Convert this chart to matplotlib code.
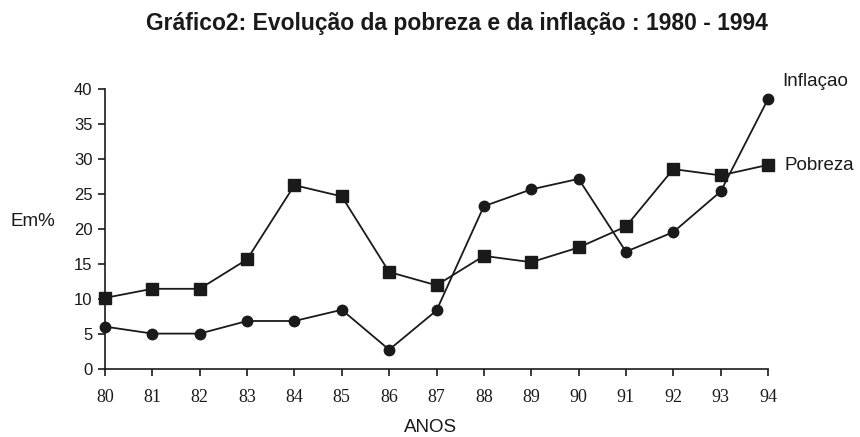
import matplotlib
matplotlib.use("Agg")
import matplotlib.pyplot as plt

anos = [80, 81, 82, 83, 84, 85, 86, 87, 88, 89, 90, 91, 92, 93, 94]
pobreza = [10.2, 11.5, 11.5, 15.7, 26.3, 24.7, 13.9, 12.0, 16.2, 15.3, 17.4, 20.4, 28.6, 27.7, 29.2]
inflacao = [6.1, 5.1, 5.1, 6.9, 6.9, 8.5, 2.8, 8.4, 23.3, 25.7, 27.2, 16.8, 19.6, 25.4, 38.6]
yticks = [0, 5, 10, 15, 20, 25, 30, 35, 40]

fig = plt.figure(figsize=(8.6, 4.37), dpi=100)
ax = fig.add_axes([105/860, 1-369.3/437, (768-105)/860, (369.3-89.3)/437])

col = "#1a1a1a"
ax.plot(anos, pobreza, color=col, lw=1.3, marker="s", markersize=9, clip_on=False, zorder=3)
ax.plot(anos, inflacao, color=col, lw=1.3, marker="o", markersize=7.5, clip_on=False, zorder=3)

ax.set_xlim(80, 94)
ax.set_ylim(0, 40)
ax.set_xticks(anos)
ax.set_xticklabels([str(a) for a in anos], family="Liberation Serif", fontsize=13)
ax.set_yticks(yticks)
ax.set_yticklabels([str(v) for v in yticks], family="Liberation Sans", fontsize=12)
for s in ["top", "right"]:
    ax.spines[s].set_visible(False)
for s in ["left", "bottom"]:
    ax.spines[s].set_color(col)
    ax.spines[s].set_linewidth(1.2)
ax.tick_params(axis="both", direction="out", length=5, width=1.2, color=col, labelcolor=col)
ax.tick_params(axis="x", pad=9)
ax.tick_params(axis="y", pad=4)

fig.text(457/860, 1-30/437, "Gráfico2: Evolução da pobreza e da inflação : 1980 - 1994",
         ha="center", va="baseline", fontsize=16.5, fontweight="bold", family="Liberation Sans", color=col)
fig.text(11/860, 1-221/437, "Em%", ha="left", va="center", fontsize=13.5, family="Liberation Sans", color=col)
fig.text(431/860, 1-428/437, "ANOS", ha="center", va="center", fontsize=13.5, family="Liberation Sans", color=col)
fig.text(782/860, 1-82/437, "Inflaçao", ha="left", va="center", fontsize=13.5, family="Liberation Sans", color=col)
fig.text(784/860, 1-166/437, "Pobreza", ha="left", va="center", fontsize=13.5, family="Liberation Sans", color=col)

fig.savefig("out.png", dpi=100)
